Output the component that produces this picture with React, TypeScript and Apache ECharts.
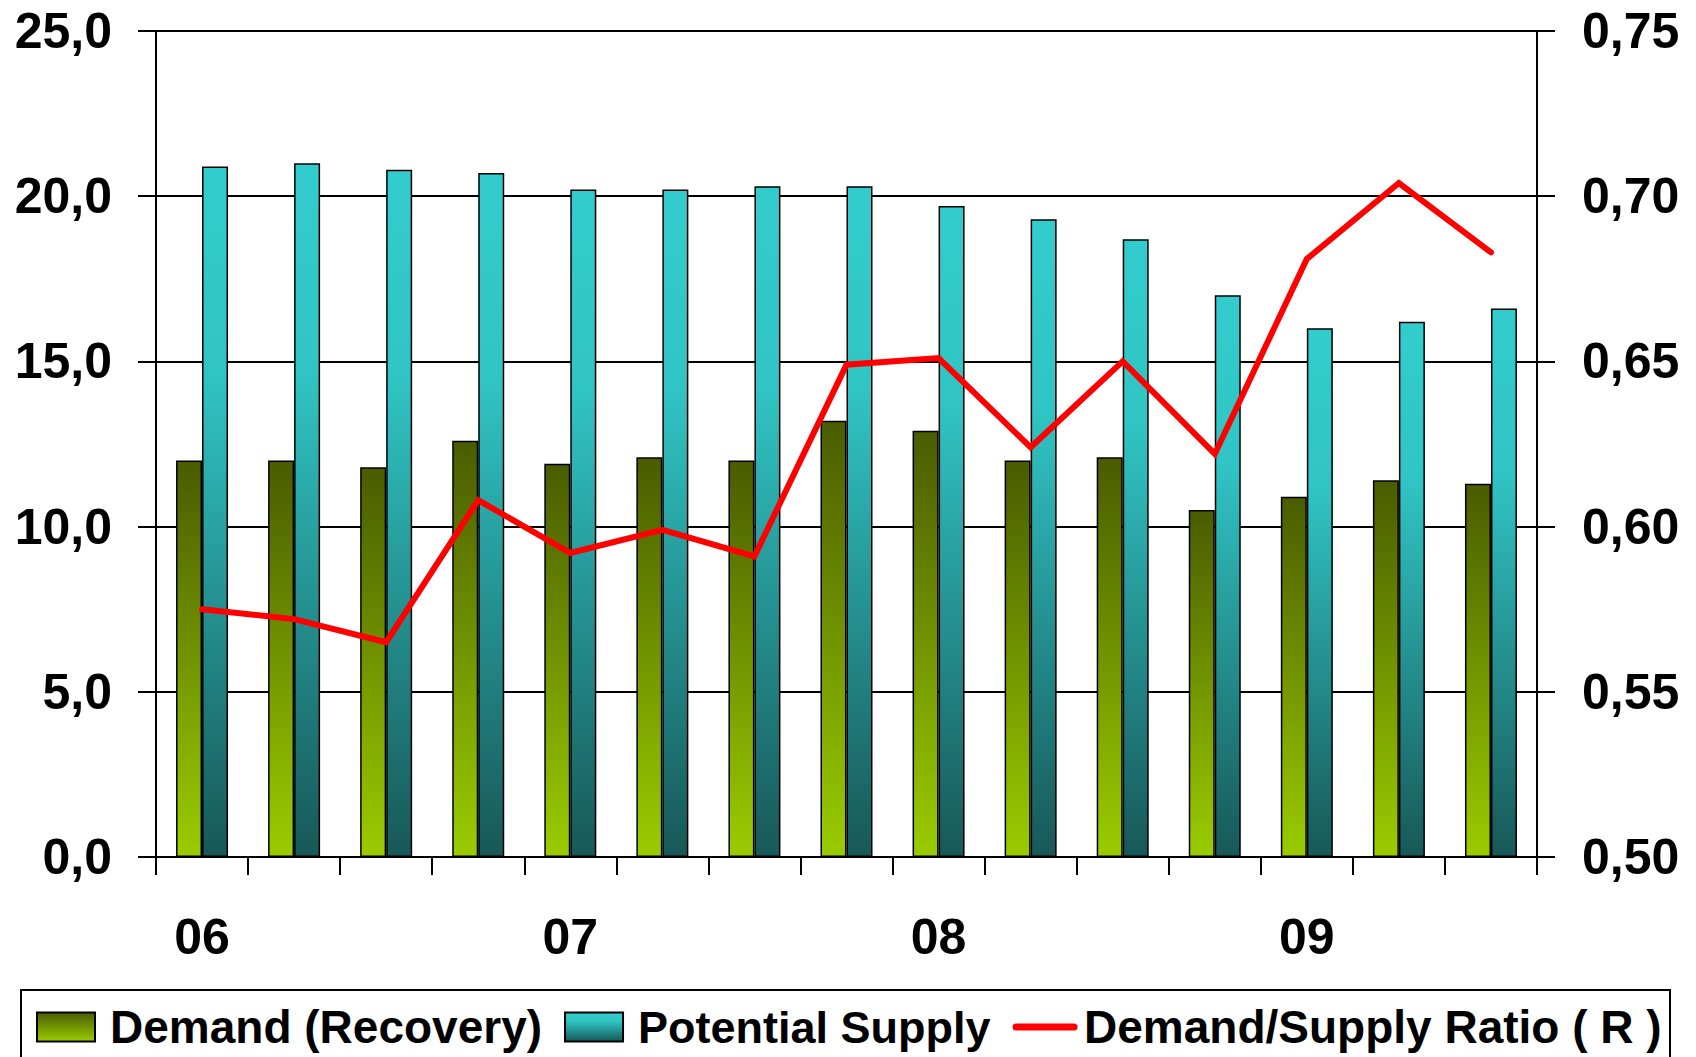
import React, { useEffect, useRef } from "react";
import * as echarts from "echarts";

const categories = [
  "06 Q1", "06 Q2", "06 Q3", "06 Q4",
  "07 Q1", "07 Q2", "07 Q3", "07 Q4",
  "08 Q1", "08 Q2", "08 Q3", "08 Q4",
  "09 Q1", "09 Q2", "09 Q3",
];
const demand = [12.0, 12.0, 11.8, 12.6, 11.9, 12.1, 12.0, 13.2, 12.9, 12.0, 12.1, 10.5, 10.9, 11.4, 11.3];
const supply = [20.9, 21.0, 20.8, 20.7, 20.2, 20.2, 20.3, 20.3, 19.7, 19.3, 18.7, 17.0, 16.0, 16.2, 16.6];
const ratio = [0.575, 0.572, 0.565, 0.608, 0.592, 0.599, 0.591, 0.649, 0.651, 0.624, 0.650, 0.622, 0.681, 0.704, 0.683];
const seriesNames = ["Demand (Recovery)", "Potential Supply", "Demand/Supply Ratio ( R )"];

const FONT = "'Liberation Sans', Arial, sans-serif";

export default function App() {
  const ref = useRef<HTMLDivElement>(null);
  useEffect(() => {
    const chart = echarts.init(ref.current!, null, { renderer: "svg" });
    const labelStyle = { fontSize: 50, fontWeight: "bold", color: "#000", fontFamily: FONT };
    chart.setOption({
      animation: false,
      backgroundColor: "#fff",
      grid: { left: 156, right: 159, top: 31, bottom: 200, containLabel: false },
      graphic: [
        {
          type: "rect",
          z: 0,
          shape: { x: 21, y: 990, width: 1649, height: 200 },
          style: { fill: "none", stroke: "#000", lineWidth: 2 },
        },
      ],
      legend: {
        left: 36,
        top: 1004,
        padding: 0,
        itemWidth: 58,
        itemHeight: 29,
        itemGap: 22,
        data: [
          { name: seriesNames[0], icon: "rect" },
          { name: seriesNames[1], icon: "rect", textStyle: { fontSize: 45 } },
          {
            name: seriesNames[2],
            itemStyle: { opacity: 0 },
            lineStyle: { width: 7, cap: "round", color: "#FF0000" },
            textStyle: { padding: [0, 0, 0, 5] },
          },
        ],
        textStyle: { ...labelStyle, fontSize: 46, padding: [0, 0, 0, 10] },
      },
      xAxis: {
        type: "category",
        data: categories,
        boundaryGap: true,
        axisLine: { show: true, lineStyle: { color: "#000", width: 2 } },
        axisTick: { show: true, interval: 0, length: 18, lineStyle: { color: "#000", width: 2 } },
        axisLabel: {
          ...labelStyle,
          interval: 3,
          margin: 55,
          formatter: (v: string) => v.slice(0, 2),
        },
        splitLine: { show: false },
      },
      yAxis: [
        {
          type: "value",
          min: 0,
          max: 25,
          interval: 5,
          position: "left",
          axisLine: { show: true, lineStyle: { color: "#000", width: 2 } },
          axisTick: { show: true, length: 18, lineStyle: { color: "#000", width: 2 } },
          axisLabel: { ...labelStyle, margin: 44, formatter: (v: number) => v.toFixed(1).replace(".", ",") },
          splitLine: { show: true, lineStyle: { color: "#000", width: 2 } },
        },
        {
          type: "value",
          min: 0.5,
          max: 0.75,
          interval: 0.05,
          position: "right",
          axisLine: { show: true, lineStyle: { color: "#000", width: 2 } },
          axisTick: { show: true, length: 18, lineStyle: { color: "#000", width: 2 } },
          axisLabel: { ...labelStyle, margin: 45, formatter: (v: number) => v.toFixed(2).replace(".", ",") },
          splitLine: { show: false },
        },
      ],
      series: [
        {
          name: seriesNames[0],
          type: "bar",
          data: demand,
          barWidth: 26,
          barGap: "0%",
          itemStyle: {
            color: new echarts.graphic.LinearGradient(0, 0, 0, 1, [
              { offset: 0, color: "#4A5C00" },
              { offset: 1, color: "#9ACC00" },
            ]),
            borderColor: "#000",
            borderWidth: 1.5,
          },
        },
        {
          name: seriesNames[1],
          type: "bar",
          data: supply,
          barWidth: 26,
          barGap: "0%",
          itemStyle: {
            color: new echarts.graphic.LinearGradient(0, 0, 0, 1, [
              { offset: 0, color: "#33CCCC" },
              { offset: 0.3, color: "#31C4C4" },
              { offset: 1, color: "#185858" },
            ]),
            borderColor: "#000",
            borderWidth: 1.5,
          },
        },
        {
          name: seriesNames[2],
          type: "line",
          yAxisIndex: 1,
          data: ratio,
          symbol: "none",
          z: 5,
          lineStyle: { color: "#FF0000", width: 6, cap: "round", join: "miter" },
          itemStyle: { color: "#FF0000" },
        },
      ],
    });
    return () => chart.dispose();
  }, []);
  return (
    <div
      ref={ref}
      style={{ position: "fixed", left: 0, top: 0, width: 1696, height: 1057, background: "#fff" }}
    />
  );
}
